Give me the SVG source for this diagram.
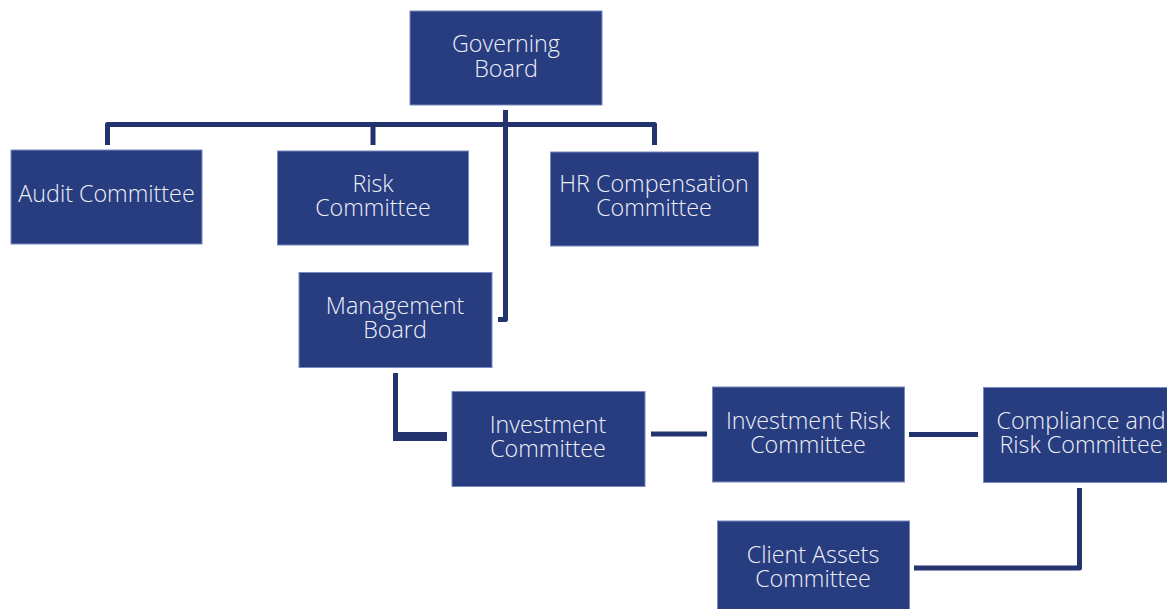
<svg xmlns="http://www.w3.org/2000/svg" width="1167" height="609" viewBox="0 0 1167 609">
  <style>
    .box { fill: #283c80; stroke: #7a88c0; stroke-width: 1; }
    .lbl { font-family: "Open Sans", "Noto Sans", "DejaVu Sans", sans-serif; font-size: 23.3px; font-weight: 300; fill: #eef0f8; text-anchor: middle; }
    .wire { fill: none; stroke: #22336e; stroke-width: 5; stroke-linejoin: round; }
  </style>
  <rect width="1167" height="609" fill="#ffffff"/>

  <g id="connectors">
    <!-- governing board fan-out to committees -->
    <path class="wire" d="M107.5 145 V124.5 H654.5 V145"/>
    <path class="wire" d="M373 124.5 V145"/>
    <!-- governing board down to management board -->
    <path class="wire" d="M505.5 110 V319.5 H498"/>
    <!-- management board to investment committee -->
    <path class="wire" d="M395.5 373 V436.5 H447"/>
    <path d="M393 432 H447 V441 H393 Z" fill="#22336e"/>
    <!-- investment chain -->
    <path class="wire" d="M651 434 H707"/>
    <path class="wire" d="M909 434.5 H978"/>
    <!-- compliance to client assets -->
    <path class="wire" d="M1079.5 488 V568 H914"/>
  </g>

  <g id="governing-board">
    <rect class="box" x="410" y="11" width="192" height="94"/>
    <text class="lbl" x="506" y="52">Governing</text>
    <text class="lbl" x="506" y="77">Board</text>
  </g>

  <g id="audit-committee">
    <rect class="box" x="11" y="150" width="191" height="94"/>
    <text class="lbl" x="106.5" y="202">Audit Committee</text>
  </g>

  <g id="risk-committee">
    <rect class="box" x="277.5" y="151" width="191" height="94"/>
    <text class="lbl" x="373" y="192">Risk</text>
    <text class="lbl" x="373" y="216">Committee</text>
  </g>

  <g id="hr-compensation-committee">
    <rect class="box" x="550.5" y="152" width="208" height="94"/>
    <text class="lbl" x="654" y="192">HR Compensation</text>
    <text class="lbl" x="654" y="216">Committee</text>
  </g>

  <g id="management-board">
    <rect class="box" x="299" y="272.5" width="193" height="95"/>
    <text class="lbl" x="395" y="314">Management</text>
    <text class="lbl" x="395" y="338">Board</text>
  </g>

  <g id="investment-committee">
    <rect class="box" x="452" y="391.5" width="193" height="95"/>
    <text class="lbl" x="548" y="433">Investment</text>
    <text class="lbl" x="548" y="457">Committee</text>
  </g>

  <g id="investment-risk-committee">
    <rect class="box" x="712.5" y="387" width="192" height="95"/>
    <text class="lbl" x="808" y="429">Investment Risk</text>
    <text class="lbl" x="808" y="453">Committee</text>
  </g>

  <g id="compliance-risk-committee">
    <rect class="box" x="983.5" y="387.5" width="192" height="95"/>
    <text class="lbl" x="1081" y="429">Compliance and</text>
    <text class="lbl" x="1081" y="453">Risk Committee</text>
  </g>

  <g id="client-assets-committee">
    <rect class="box" x="717.5" y="521" width="192" height="95"/>
    <text class="lbl" x="813" y="563">Client Assets</text>
    <text class="lbl" x="813" y="587">Committee</text>
  </g>
</svg>
